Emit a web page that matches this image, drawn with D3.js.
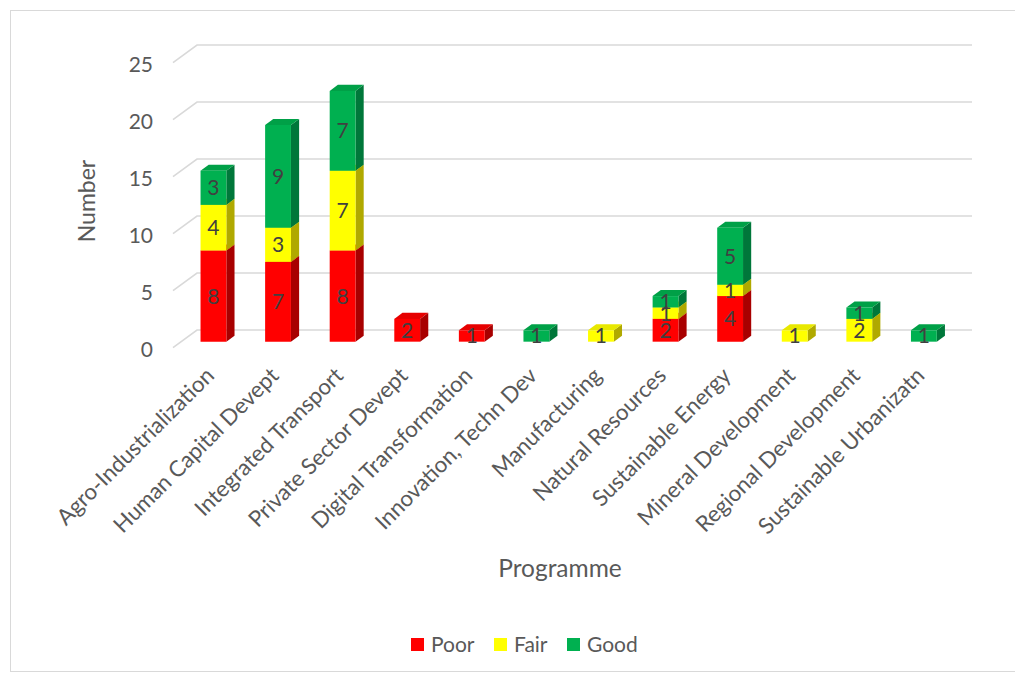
<!DOCTYPE html>
<html>
<head>
<meta charset="utf-8">
<script src="https://cdn.jsdelivr.net/npm/d3@7"></script>
<style>
  html, body { margin: 0; padding: 0; background: #fff; }
  svg { display: block; }
  text { font-family: Lato, "Open Sans", sans-serif; }
</style>
</head>
<body>
<svg id="chart" width="1015" height="679"></svg>
<script>
// Programme ratings by category
const categories = [
  "Agro-Industrialization", "Human Capital Devept", "Integrated Transport",
  "Private Sector Devept", "Digital Transformation", "Innovation, Techn Dev",
  "Manufacturing", "Natural Resources", "Sustainable Energy",
  "Mineral Development", "Regional Development", "Sustainable Urbanizatn"
];
const poor = [8, 7, 8, 2, 1, 0, 0, 2, 4, 0, 0, 0];
const fair = [4, 3, 7, 0, 0, 0, 1, 1, 1, 1, 2, 0];
const good = [3, 9, 7, 0, 0, 1, 0, 1, 5, 0, 1, 1];
const seriesNames = ["Poor", "Fair", "Good"];
const yTicks = [0, 5, 10, 15, 20, 25];

const frontColors = ["#FF0000", "#FFFF00", "#00B050"];
const sideColors  = ["#A80000", "#B0A900", "#00773A"];
const topColors   = ["#E60000", "#E8E800", "#00A047"];

const table = categories.map((c, i) => ({ cat: c, Poor: poor[i], Fair: fair[i], Good: good[i] }));
const stacked = d3.stack().keys(seriesNames)(table);

const svg = d3.select("#chart");

// chart frame
svg.append("rect")
  .attr("x", 10.5).attr("y", 10.5)
  .attr("width", 1020).attr("height", 661)
  .attr("fill", "none").attr("stroke", "#d9d9d9").attr("stroke-width", 1);

// 3D projection: front plane coordinates plus a depth offset
const depthDX = 24, depthDY = -17.7;   // full depth of the plot box
const barZ0 = 0.34, barZ1 = 0.68;       // bar front / back depth

const x = d3.scaleBand().domain(categories).range([173, 948])
  .paddingInner(0.6).paddingOuter(0.3);
const y = d3.scaleLinear().domain([0, 25]).range([347.7, 62.7]);

const P = (xf, v, z) => [xf + z * depthDX, y(v) + z * depthDY];

// gridlines: side-wall stubs and back-wall lines
const grid = svg.append("g").attr("stroke", "#d9d9d9").attr("stroke-width", 1.6).attr("fill", "none");
yTicks.forEach(t => {
  const a = P(x.range()[0], t, 0), b = P(x.range()[0], t, 1), c = P(x.range()[1], t, 1);
  grid.append("path").attr("d", `M${a[0]},${a[1]}L${b[0]},${b[1]}L${c[0]},${c[1]}`);
});

// y tick labels
svg.append("g").selectAll("text").data(yTicks).join("text")
  .attr("x", 153).attr("y", d => y(d) + 9.5)
  .attr("text-anchor", "end").attr("font-size", 21).attr("fill", "#595959")
  .text(d => d);

// bars
const bw = x.bandwidth();
const barsG = svg.append("g");
categories.forEach((c, i) => {
  stacked.forEach((s, si) => {
    const [v0, v1] = s[i];
    if (v1 - v0 <= 0) return;
    const xl = x(c), xr = xl + bw;
    const f = [P(xl, v0, barZ0), P(xr, v0, barZ0), P(xr, v1, barZ0), P(xl, v1, barZ0)];
    const side = [P(xr, v0, barZ0), P(xr, v0, barZ1), P(xr, v1, barZ1), P(xr, v1, barZ0)];
    const top = [P(xl, v1, barZ0), P(xr, v1, barZ0), P(xr, v1, barZ1), P(xl, v1, barZ1)];
    const poly = pts => "M" + pts.map(p => p.join(",")).join("L") + "Z";
    barsG.append("path").attr("d", poly(side)).attr("fill", sideColors[si]);
    barsG.append("path").attr("d", poly(top)).attr("fill", topColors[si]);
    barsG.append("path").attr("d", poly(f)).attr("fill", frontColors[si]);
  });
});

// value labels on the front faces
const labelsG = svg.append("g");
categories.forEach((c, i) => {
  stacked.forEach((s, si) => {
    const [v0, v1] = s[i];
    if (v1 - v0 <= 0) return;
    const p = P(x(c) + bw / 2, (v0 + v1) / 2, barZ0);
    labelsG.append("text")
      .attr("x", p[0]).attr("y", p[1] + 7.5)
      .attr("text-anchor", "middle").attr("font-size", 21).attr("fill", "#404040")
      .text(v1 - v0);
  });
});

// category labels, rotated
svg.append("g").selectAll("text").data(categories).join("text")
  .attr("transform", d => {
    const cx = P(x(d) + bw / 2, 0, barZ0)[0];
    return `translate(${cx + 2},377) rotate(-45)`;
  })
  .attr("text-anchor", "end").attr("font-size", 22.3).attr("fill", "#595959")
  .text(d => d);

// axis titles
svg.append("text")
  .attr("transform", "translate(95,201) rotate(-90)")
  .attr("text-anchor", "middle").attr("font-size", 23).attr("fill", "#595959")
  .text("Number");
svg.append("text")
  .attr("x", 560).attr("y", 577)
  .attr("text-anchor", "middle").attr("font-size", 24.5).attr("fill", "#595959")
  .text("Programme");

// legend
const legendX = [411, 494, 567];
const legend = svg.append("g");
seriesNames.forEach((n, i) => {
  legend.append("rect").attr("x", legendX[i]).attr("y", 638).attr("width", 13).attr("height", 13)
    .attr("fill", frontColors[i]);
  legend.append("text").attr("x", legendX[i] + 20).attr("y", 652)
    .attr("font-size", 21).attr("fill", "#595959").text(n);
});
</script>
</body>
</html>
